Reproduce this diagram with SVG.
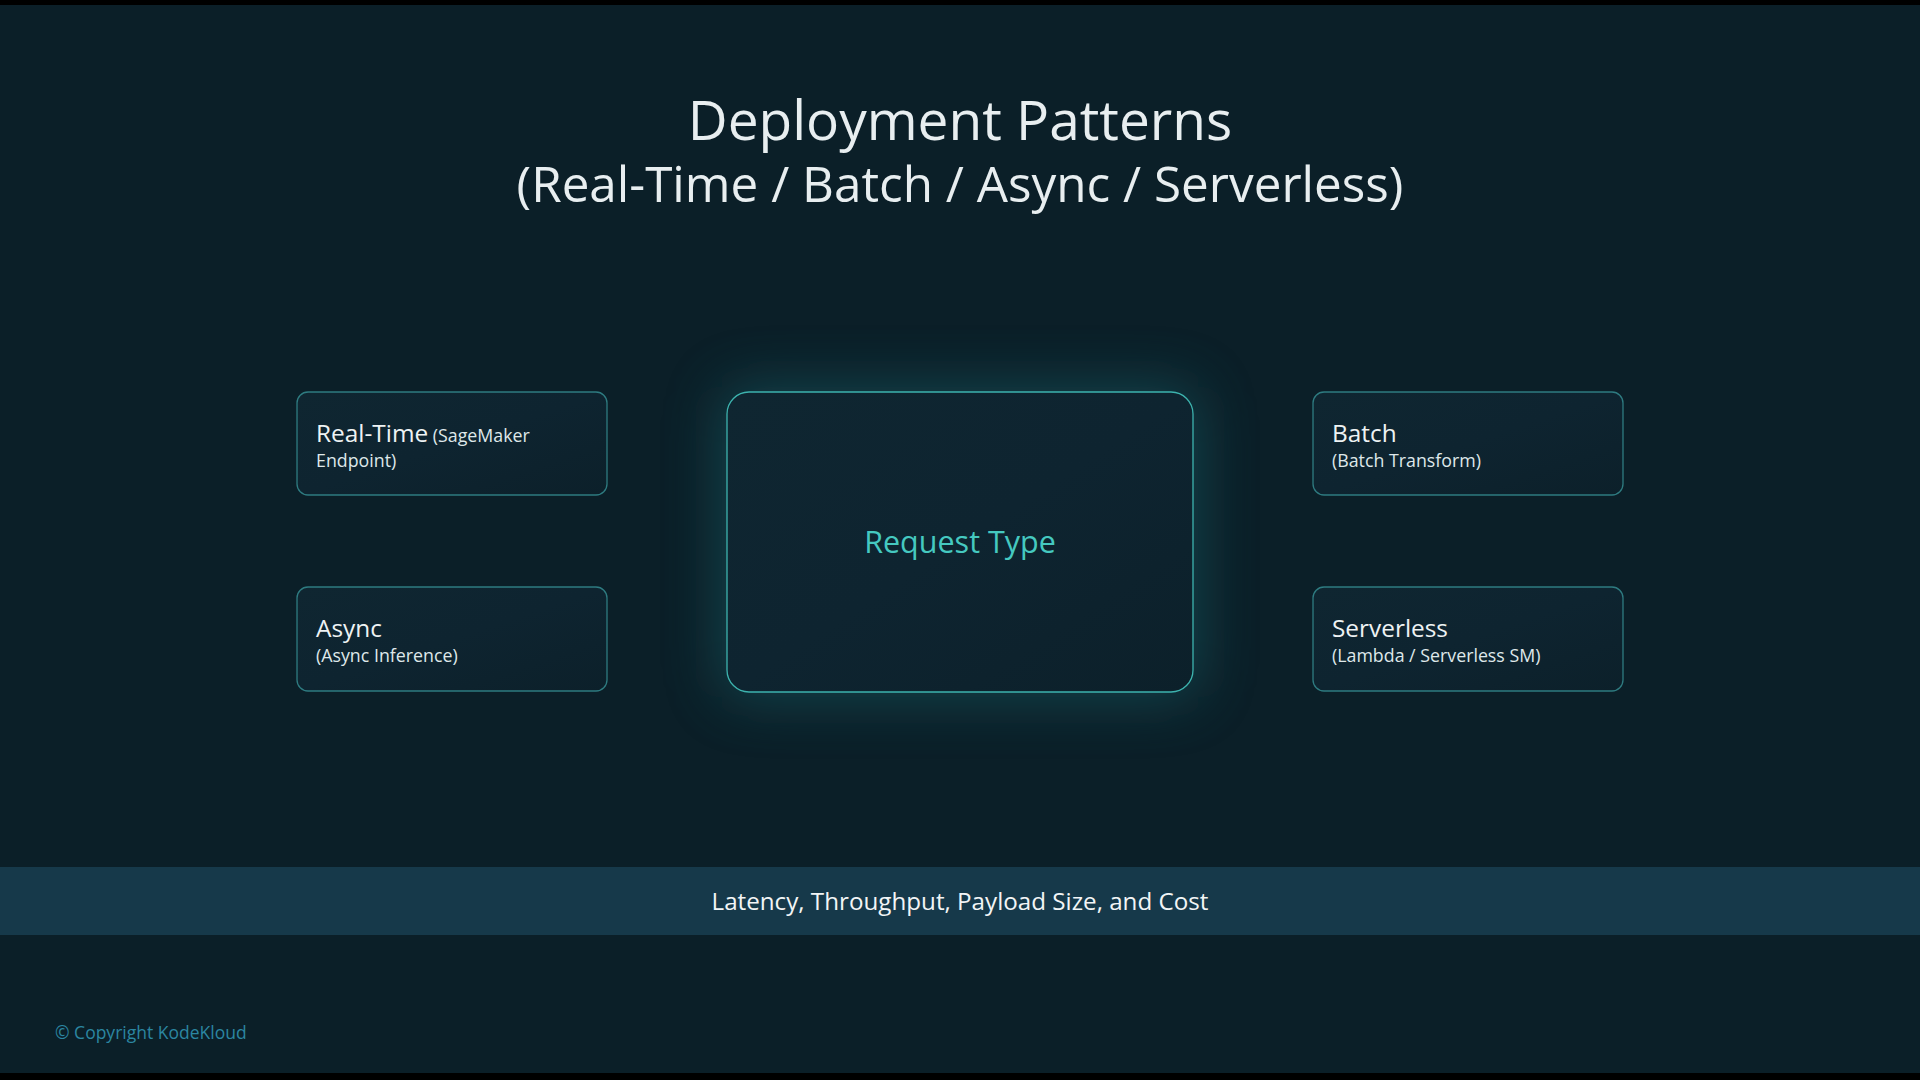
<svg xmlns="http://www.w3.org/2000/svg" width="1920" height="1080" viewBox="0 0 1920 1080">
  <style>
    .title { font-family: "Open Sans", "Noto Sans", sans-serif; fill: #e8eef0; text-anchor: middle; }
    .box { fill: url(#boxFill); stroke: #3a9a9e; stroke-width: 1.3; stroke-opacity: 0.75; }
    .center { fill: url(#boxFill); stroke: #3db3ae; stroke-width: 1.3; }
    .lbl { font-family: "Open Sans", "Noto Sans", sans-serif; fill: #eef3f4; font-size: 24.4px; }
    .sub { font-family: "Open Sans", "Noto Sans", sans-serif; fill: #dfe8ea; font-size: 17.8px; }
    .req { font-family: "Open Sans", "Noto Sans", sans-serif; fill: #45c9c0; font-size: 30.5px; text-anchor: middle; }
    .band { font-family: "Open Sans", "Noto Sans", sans-serif; fill: #f2f5f6; font-size: 24.2px; text-anchor: middle; }
    .copy { font-family: "Open Sans", "Noto Sans", sans-serif; fill: #2b86a1; font-size: 17.5px; }
  </style>
  <defs>
    <linearGradient id="boxFill" x1="0" y1="0" x2="1" y2="1">
      <stop offset="0" stop-color="#0f2631"/>
      <stop offset="0.5" stop-color="#0e2430"/>
      <stop offset="1" stop-color="#0c202a"/>
    </linearGradient>
    <filter id="glow" x="-40%" y="-40%" width="180%" height="180%">
      <feGaussianBlur stdDeviation="28"/>
    </filter>
  </defs>
  <rect width="1920" height="1080" fill="#0b1f28"/>
  <rect x="0" y="0" width="1920" height="5" fill="#000"/>
  <rect x="0" y="1073" width="1920" height="7" fill="#000"/>

  <g id="title">
    <text class="title" x="960" y="140" font-size="55">Deployment Patterns</text>
    <text class="title" x="960" y="202" font-size="49.4">(Real-Time / Batch / Async / Serverless)</text>
  </g>

  <g id="connectors"></g>

  <g id="node-request-type">
    <rect x="722" y="387" width="476" height="310" rx="24" fill="#1a6a72" opacity="0.5" filter="url(#glow)"/>
    <rect class="center" x="727" y="392" width="466" height="300" rx="22"/>
    <text class="req" x="960" y="553">Request Type</text>
  </g>

  <g id="node-real-time">
    <rect class="box" x="297" y="392" width="310" height="103" rx="11"/>
    <text x="316" y="442"><tspan class="lbl">Real-Time</tspan><tspan class="sub"> (SageMaker</tspan></text>
    <text class="sub" x="316" y="467">Endpoint)</text>
  </g>

  <g id="node-async">
    <rect class="box" x="297" y="587" width="310" height="104" rx="11"/>
    <text class="lbl" x="316" y="637">Async</text>
    <text class="sub" x="316" y="662">(Async Inference)</text>
  </g>

  <g id="node-batch">
    <rect class="box" x="1313" y="392" width="310" height="103" rx="11"/>
    <text class="lbl" x="1332" y="442">Batch</text>
    <text class="sub" x="1332" y="467">(Batch Transform)</text>
  </g>

  <g id="node-serverless">
    <rect class="box" x="1313" y="587" width="310" height="104" rx="11"/>
    <text class="lbl" x="1332" y="637">Serverless</text>
    <text class="sub" x="1332" y="662">(Lambda / Serverless SM)</text>
  </g>

  <g id="footer-band">
    <rect x="0" y="867" width="1920" height="68" fill="#16394a"/>
    <text class="band" x="960" y="910">Latency, Throughput, Payload Size, and Cost</text>
  </g>

  <text class="copy" x="55" y="1039">© Copyright KodeKloud</text>
</svg>
